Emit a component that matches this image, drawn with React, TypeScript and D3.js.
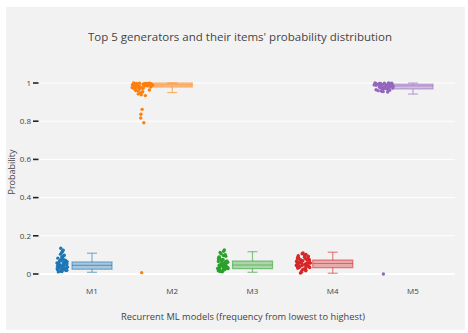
import React from "react";
import * as d3 from "d3";

// Categories, colours and per-model probability values
const models = ["M1", "M2", "M3", "M4", "M5"];
const colors = ["#1f77b4", "#ff7f0e", "#2ca02c", "#d62728", "#9467bd"];

const m1Values = [0.135, 0.124, 0.118, 0.112, 0.104, 0.099, 0.095, 0.091, 0.088, 0.085, 0.083, 0.079, 0.077, 0.075, 0.072, 0.071, 0.069, 0.066, 0.065, 0.063, 0.061, 0.06, 0.058, 0.056, 0.055, 0.053, 0.051, 0.05, 0.048, 0.047, 0.046, 0.044, 0.043, 0.041, 0.04, 0.039, 0.037, 0.036, 0.034, 0.033, 0.031, 0.03, 0.029, 0.027, 0.026, 0.025, 0.023, 0.022, 0.021, 0.019, 0.018, 0.016, 0.015, 0.013, 0.011];
const m2Values = [1.0, 0.999, 0.999, 0.998, 0.998, 0.997, 0.997, 0.996, 0.996, 0.995, 0.995, 0.994, 0.994, 0.993, 0.993, 0.992, 0.991, 0.991, 0.99, 0.989, 0.989, 0.988, 0.987, 0.986, 0.985, 0.985, 0.984, 0.983, 0.982, 0.981, 0.98, 0.979, 0.978, 0.977, 0.976, 0.975, 0.974, 0.972, 0.971, 0.969, 0.967, 0.965, 0.963, 0.961, 0.958, 0.955, 0.952, 0.948, 0.943, 0.938, 0.934, 0.862, 0.836, 0.817, 0.792, 0.007];
const m3Values = [0.126, 0.119, 0.113, 0.106, 0.101, 0.097, 0.093, 0.089, 0.086, 0.083, 0.08, 0.078, 0.076, 0.073, 0.071, 0.07, 0.068, 0.066, 0.064, 0.062, 0.061, 0.059, 0.057, 0.055, 0.054, 0.052, 0.05, 0.049, 0.047, 0.046, 0.045, 0.043, 0.042, 0.04, 0.039, 0.037, 0.036, 0.035, 0.033, 0.032, 0.03, 0.029, 0.028, 0.026, 0.025, 0.023, 0.022, 0.02, 0.019, 0.017, 0.015, 0.013, 0.012];
const m4Values = [0.11, 0.106, 0.103, 0.099, 0.096, 0.093, 0.09, 0.088, 0.086, 0.084, 0.082, 0.08, 0.078, 0.076, 0.075, 0.073, 0.072, 0.07, 0.069, 0.067, 0.066, 0.064, 0.063, 0.061, 0.06, 0.058, 0.057, 0.056, 0.054, 0.053, 0.052, 0.05, 0.049, 0.048, 0.046, 0.045, 0.044, 0.042, 0.041, 0.04, 0.038, 0.037, 0.035, 0.034, 0.032, 0.031, 0.029, 0.027, 0.025, 0.023, 0.02, 0.017, 0.013, 0.009, 0.005];
const m5Values = [1.0, 1.0, 0.999, 0.999, 0.998, 0.998, 0.997, 0.997, 0.996, 0.995, 0.995, 0.994, 0.993, 0.993, 0.992, 0.991, 0.99, 0.99, 0.989, 0.988, 0.987, 0.986, 0.985, 0.984, 0.983, 0.982, 0.981, 0.979, 0.978, 0.977, 0.975, 0.974, 0.972, 0.971, 0.969, 0.968, 0.966, 0.965, 0.963, 0.962, 0.96, 0.959, 0.957, 0.955, 0.953, 0.0];
const pointSeries = [m1Values, m2Values, m3Values, m4Values, m5Values];

// Box statistics per model
const lowerWhisker = [0.009, 0.95, 0.009, 0.004, 0.942];
const quartile1 = [0.025, 0.979, 0.028, 0.033, 0.969];
const medians = [0.045, 0.99, 0.047, 0.055, 0.985];
const quartile3 = [0.063, 1.0, 0.068, 0.073, 0.994];
const upperWhisker = [0.109, 1.0, 0.117, 0.114, 1.0];

const yTicks = [0, 0.2, 0.4, 0.6, 0.8, 1];

const W = 468;
const H = 333;
const FONT = "'Open Sans', 'Noto Sans', sans-serif";

function hash(n: number): number {
  const s = Math.sin(n * 12.9898 + 78.233) * 43758.5453;
  return s - Math.floor(s);
}

export default function App() {
  const plot = { left: 40, right: 455, top: 66, bottom: 284 };
  const x = d3.scaleLinear().domain([0, 4]).range([92, 413]);
  const y = d3.scaleLinear().domain([0, 1]).range([274, 83]);
  const boxHalf = 20;
  const pointShift = -30;
  const jitterHalf = [6, 11, 6, 8, 11];

  const points = pointSeries.flatMap((vals, g) => {
    const ys = vals.map((v) => y(v));
    const counts = ys.map((py) => ys.filter((q) => Math.abs(q - py) < 4).length);
    const maxCount = d3.max(counts) || 1;
    return vals.map((v, i) => {
      const f = Math.sqrt(counts[i] / maxCount);
      const off = jitterHalf[g] * f * (hash(i + g * 101) * 2 - 1);
      return { g, cx: x(g) + pointShift + off, cy: y(v), key: `${g}-${i}` };
    });
  });

  return (
    <svg
      width={W}
      height={H}
      style={{ position: "absolute", left: 0, top: 0, background: "#fff" }}
      fontFamily={FONT}
    >
      <rect x={6} y={7} width={459} height={323} fill="#f2f2f2" />
      <text x={240} y={41} textAnchor="middle" fontSize={11.5} fill="#444">
        Top 5 generators and their items' probability distribution
      </text>

      {/* grid */}
      {yTicks.map((t) => (
        <g key={t}>
          <line
            x1={plot.left}
            x2={plot.right}
            y1={y(t)}
            y2={y(t)}
            stroke="#fff"
            strokeWidth={t === 0 ? 2 : 1}
          />
          <line x1={33} x2={38.5} y1={y(t)} y2={y(t)} stroke="#222" strokeWidth={1.6} />
          <text x={31} y={y(t)} dy="0.35em" textAnchor="end" fontSize={8} fill="#444">
            {d3.format("~g")(t)}
          </text>
        </g>
      ))}

      <text
        transform={`translate(15,${172}) rotate(-90)`}
        textAnchor="middle"
        fontSize={9}
        fill="#444"
      >
        Probability
      </text>

      {/* boxes */}
      {models.map((m, i) => {
        const cx = x(i);
        const c = colors[i];
        return (
          <g key={m}>
            <line x1={cx} x2={cx} y1={y(upperWhisker[i])} y2={y(quartile3[i])} stroke={c} strokeOpacity={0.55} strokeWidth={1.2} />
            <line x1={cx} x2={cx} y1={y(quartile1[i])} y2={y(lowerWhisker[i])} stroke={c} strokeOpacity={0.55} strokeWidth={1.2} />
            <line x1={cx - 5} x2={cx + 5} y1={y(upperWhisker[i])} y2={y(upperWhisker[i])} stroke={c} strokeOpacity={0.55} strokeWidth={1.2} />
            <line x1={cx - 5} x2={cx + 5} y1={y(lowerWhisker[i])} y2={y(lowerWhisker[i])} stroke={c} strokeOpacity={0.55} strokeWidth={1.2} />
            <rect
              x={cx - boxHalf}
              y={y(quartile3[i])}
              width={boxHalf * 2}
              height={Math.max(1, y(quartile1[i]) - y(quartile3[i]))}
              fill={c}
              fillOpacity={0.35}
              stroke={c}
              strokeOpacity={0.55}
              strokeWidth={1.2}
            />
            <line x1={cx - boxHalf} x2={cx + boxHalf} y1={y(medians[i])} y2={y(medians[i])} stroke={c} strokeOpacity={0.55} strokeWidth={1.2} />
            <text x={cx} y={294} textAnchor="middle" fontSize={8} fill="#444">
              {m}
            </text>
          </g>
        );
      })}

      {/* jittered points */}
      {points.map((p) => (
        <circle key={p.key} cx={p.cx} cy={p.cy} r={1.7} fill={colors[p.g]} />
      ))}

      <text x={243} y={320} textAnchor="middle" fontSize={9.3} fill="#444">
        Recurrent ML models (frequency from lowest to highest)
      </text>
    </svg>
  );
}
